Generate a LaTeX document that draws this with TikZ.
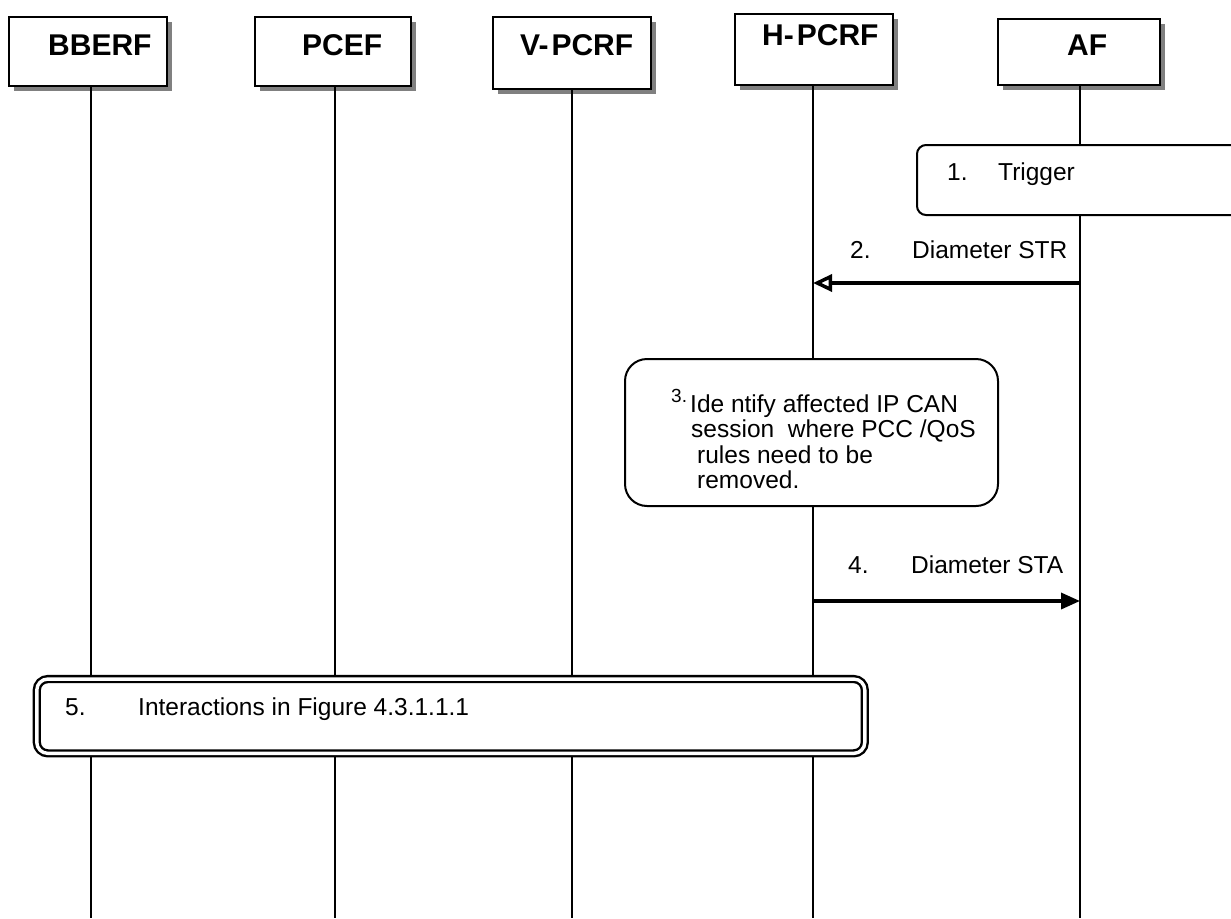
\documentclass[tikz,border=0pt]{standalone}
\usepackage{fontspec}
\setmainfont{Liberation Sans}
\usetikzlibrary{arrows.meta,shadows}
\begin{document}
\begin{tikzpicture}[x=1pt,y=-1pt,
  hdr/.style={draw=black,line width=2pt,fill=white,inner sep=0pt,
    drop shadow={shadow xshift=5pt,shadow yshift=-5pt,fill=black!50,opacity=1}},
  hdrtxt/.style={anchor=base west,inner sep=0pt,font=\fontsize{30}{32}\selectfont\bfseries},
  txt/.style={anchor=base west,inner sep=0pt,font=\fontsize{24.5}{26}\selectfont},
  life/.style={line width=1.5pt},
  actbox/.style={draw=black,line width=2pt,fill=white,inner sep=0pt},
  msg/.style={line width=3.5pt}
]
\useasboundingbox (0,0) rectangle (1231,918);
\clip (0,0) rectangle (1231,918);

% lifeline end points
\coordinate (bberf-end) at (91,918);
\coordinate (pcef-end) at (335,918);
\coordinate (vpcrf-end) at (572,918);
\coordinate (hpcrf-end) at (813,918);
\coordinate (af-end) at (1080,918);

% header boxes
\node[hdr,minimum width=158pt,minimum height=69pt] (bberf) at (88,51.5) {};
\node[hdr,minimum width=156pt,minimum height=69pt] (pcef) at (333,51.5) {};
\node[hdr,minimum width=158pt,minimum height=72pt] (vpcrf) at (572,53) {};
\node[hdr,minimum width=158pt,minimum height=71pt] (hpcrf) at (814,49.5) {};
\node[hdr,minimum width=162pt,minimum height=66pt] (af) at (1079,52) {};

\node[hdrtxt] (bberf-t) at (48,55) {BBERF};
\node[hdrtxt] (pcef-t) at (302,55) {PCEF};
\node[hdrtxt] (vpcrf-t) at (520,55) {V-\kern3pt PCRF};
\node[hdrtxt] (hpcrf-t) at (762,45) {H-\kern3pt PCRF};
\node[hdrtxt] (af-t) at (1067,55) {AF};

% lifelines
\draw[life] (bberf.south -| bberf-end) -- (bberf-end);
\draw[life] (pcef.south -| pcef-end) -- (pcef-end);
\draw[life] (vpcrf.south -| vpcrf-end) -- (vpcrf-end);
\draw[life] (hpcrf.south -| hpcrf-end) -- (hpcrf-end);
\draw[life] (af.south -| af-end) -- (af-end);

% 1. Trigger
\node[actbox,rounded corners=9pt,minimum width=343pt,minimum height=70pt] (trig) at (1088.5,180) {};
\node[txt] (trig-n) at (947,180) {1.};
\node[txt] (trig-t) at (998,180) {Trigger};

% 2. Diameter STR
\coordinate (m2s) at (1080,283);
\coordinate (m2e) at (813,283);
\draw[msg,-{Triangle[open,length=19pt,width=17pt,line width=3.5pt]}] (m2s) -- (m2e);
\node[txt] (m2-n) at (850,258) {2.};
\node[txt] (m2-t) at (912,258) {Diameter STR};

% 3. Identify
\node[actbox,rounded corners=22pt,minimum width=373pt,minimum height=147pt] (b3) at (811.5,432.5) {};
\node[anchor=base west,inner sep=0pt,font=\fontsize{19}{20}\selectfont] (b3-n) at (671,402) {3.};
\node[txt] (b3-l1) at (690,412) {Ide ntify affected IP CAN};
\node[txt] (b3-l2) at (691,437.5) {session \ where PCC /QoS};
\node[txt] (b3-l3) at (697,463) {rules need to be};
\node[txt] (b3-l4) at (697,488.5) {removed.};

% 4. Diameter STA
\coordinate (m4s) at (813,601);
\coordinate (m4e) at (1080,601);
\draw[msg,-{Triangle[length=19pt,width=16pt]}] (m4s) -- (m4e);
\node[txt] (m4-n) at (848,573) {4.};
\node[txt] (m4-t) at (911,573) {Diameter STA};

% 5. Interactions
\node[draw=black,fill=white,line width=2.4pt,double=white,double distance=3.4pt,
  rounded corners=11pt,inner sep=0pt,minimum width=828pt,minimum height=74.3pt] (b5) at (450.8,716.2) {};
\node[txt] (b5-n) at (65,715) {5.};
\node[txt] (b5-t) at (138,715) {Interactions in Figure 4.3.1.1.1};
\end{tikzpicture}
\end{document}
